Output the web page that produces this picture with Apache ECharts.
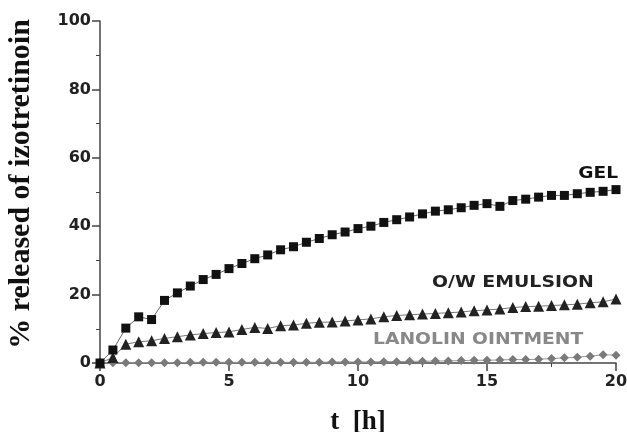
<!DOCTYPE html>
<html>
<head>
<meta charset="utf-8">
<script src="https://cdn.jsdelivr.net/npm/echarts@6/dist/echarts.min.js"></script>
<style>
  html, body { margin: 0; padding: 0; background: #fff; }
  #chart { width: 627px; height: 432px; }
</style>
</head>
<body>
<div id="chart"></div>
<script>
// sampling times, every 0.5 h
const times = [0, 0.5, 1, 1.5, 2, 2.5, 3, 3.5, 4, 4.5, 5, 5.5, 6, 6.5, 7, 7.5, 8, 8.5, 9, 9.5,
  10, 10.5, 11, 11.5, 12, 12.5, 13, 13.5, 14, 14.5, 15, 15.5, 16, 16.5, 17, 17.5, 18, 18.5, 19, 19.5, 20]

const gel = [0, 3.8, 10.2, 13.5, 12.7, 18.3, 20.5, 22.5, 24.4, 25.9, 27.6, 29.1, 30.5, 31.6, 33.1, 34.0,
  35.3, 36.4, 37.5, 38.3, 39.3, 40.0, 41.1, 41.9, 42.7, 43.6, 44.4, 44.8, 45.4, 46.1, 46.6, 45.8,
  47.5, 47.9, 48.5, 49.0, 49.0, 49.5, 49.9, 50.2, 50.7]

const emulsion = [0, 1.6, 5.5, 6.2, 6.5, 7.2, 7.7, 8.2, 8.6, 8.9, 9.1, 9.8, 10.4, 10.1, 10.9, 11.1,
  11.6, 11.9, 12.0, 12.3, 12.6, 12.9, 13.5, 13.9, 14.1, 14.3, 14.5, 14.7, 14.9, 15.3, 15.5, 15.8,
  16.2, 16.5, 16.6, 16.8, 17.0, 17.2, 17.6, 17.9, 18.7]

const lanolin = [0, 0.1, 0.1, 0.1, 0.1, 0.1, 0.1, 0.2, 0.2, 0.2, 0.2, 0.2, 0.2, 0.2, 0.2, 0.2,
  0.2, 0.2, 0.3, 0.3, 0.3, 0.3, 0.4, 0.4, 0.5, 0.5, 0.6, 0.6, 0.7, 0.8, 0.8, 0.9,
  1.0, 1.0, 1.1, 1.3, 1.5, 1.7, 2.0, 2.4, 2.3]

const seriesNames = ['GEL', 'O/W EMULSION', 'LANOLIN OINTMENT']

function pairs (ys) {
  return times.map((t, i) => [t, ys[i]])
}

const tickFont = {
  color: '#222',
  fontFamily: 'DejaVu Sans',
  fontWeight: 'bold',
  fontSize: 16
}

const axisLine = { show: true, lineStyle: { color: '#444', width: 1.5 } }
const majorTick = { show: true, length: 8, lineStyle: { color: '#444', width: 1.5 } }
const minorTick = { show: true, splitNumber: 2, length: 4, lineStyle: { color: '#444', width: 1 } }

const labelFont = 'bold 16px "DejaVu Sans"'

const chart = echarts.init(document.getElementById('chart'))
chart.setOption({
  animation: false,
  backgroundColor: '#fff',
  grid: { left: 100, right: 11, top: 21, bottom: 69, outerBoundsMode: 'none', containLabel: false },
  xAxis: {
    type: 'value',
    min: 0,
    max: 20,
    interval: 5,
    name: 't  [h]',
    nameLocation: 'middle',
    nameGap: 46,
    nameTextStyle: { fontFamily: 'Liberation Serif', fontWeight: 'bold', fontSize: 27, color: '#111' },
    axisLine: axisLine,
    axisTick: majorTick,
    minorTick: minorTick,
    axisLabel: Object.assign({ margin: 11 }, tickFont),
    splitLine: { show: false }
  },
  yAxis: {
    type: 'value',
    min: 0,
    max: 100,
    interval: 20,
    name: '% released of izotretinoin',
    nameLocation: 'middle',
    nameGap: 64,
    nameTextStyle: {
      fontFamily: 'Liberation Serif', fontWeight: 'bold', fontSize: 30, color: '#111',
      padding: [0, 0, 0, 16]
    },
    axisLine: axisLine,
    axisTick: majorTick,
    minorTick: minorTick,
    axisLabel: Object.assign({ margin: 9 }, tickFont),
    splitLine: { show: false }
  },
  series: [
    {
      name: seriesNames[0],
      type: 'line',
      data: pairs(gel),
      symbol: 'rect',
      symbolSize: 9,
      itemStyle: { color: '#111' },
      lineStyle: { color: '#666', width: 1 },
      z: 3
    },
    {
      name: seriesNames[1],
      type: 'line',
      data: pairs(emulsion),
      symbol: 'triangle',
      symbolSize: 11,
      itemStyle: { color: '#222' },
      lineStyle: { color: '#777', width: 1 },
      z: 2
    },
    {
      name: seriesNames[2],
      type: 'line',
      data: pairs(lanolin),
      symbol: 'diamond',
      symbolSize: 9,
      itemStyle: { color: '#7a7a7a' },
      lineStyle: { color: '#999', width: 1 },
      z: 1
    }
  ],
  // series captions, the source font is wide so stretch a bit
  graphic: [
    {
      type: 'text', x: 618, y: 174, scaleX: 1.16,
      style: { text: seriesNames[0], fill: '#111', font: labelFont, align: 'right', verticalAlign: 'middle' }
    },
    {
      type: 'text', x: 432, y: 283, scaleX: 1.18,
      style: { text: seriesNames[1], fill: '#222', font: labelFont, align: 'left', verticalAlign: 'middle' }
    },
    {
      type: 'text', x: 373, y: 340, scaleX: 1.17,
      style: { text: seriesNames[2], fill: '#888', font: labelFont, align: 'left', verticalAlign: 'middle' }
    }
  ]
})
</script>
</body>
</html>
